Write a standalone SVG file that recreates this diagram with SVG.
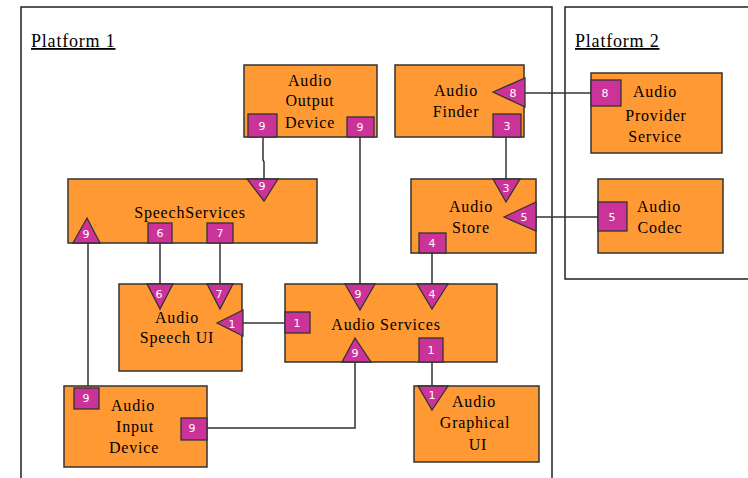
<svg xmlns="http://www.w3.org/2000/svg" width="748" height="478" viewBox="0 0 748 478">
<style>
.plat{fill:none;stroke:#222;stroke-width:1.5}
.pl{font-family:"Liberation Serif",serif;font-size:18px;letter-spacing:0.8px;fill:#000;text-decoration:underline}
.box{fill:#FF9933;stroke:#333;stroke-width:1.5}
.port{fill:#CC3399;stroke:#333;stroke-width:1.3}
.t{font-family:"Liberation Serif",serif;font-size:16px;letter-spacing:0.8px;fill:#000;text-anchor:middle}
.n{font-family:"DejaVu Sans",sans-serif;font-size:11px;fill:#fff;text-anchor:middle}
.c{fill:none;stroke:#333;stroke-width:1.5}
</style>
<rect width="748" height="478" fill="#fff"/>
<g id="platform1">
<path class="plat" d="M21,480 V7 H552 V480"/>
<text class="pl" x="31" y="47">Platform 1</text>
</g>
<g id="platform2">
<path class="plat" d="M750,279 H565 V7 H750"/>
<text class="pl" x="575" y="47">Platform 2</text>
</g>
<g id="connectors">
<polyline class="c" points="263,137 263,160 264,162 264,180"/>
<line class="c" x1="360" y1="137" x2="360" y2="285"/>
<line class="c" x1="506" y1="137" x2="506" y2="180"/>
<line class="c" x1="525" y1="93" x2="591" y2="93"/>
<line class="c" x1="536" y1="217" x2="598" y2="217"/>
<line class="c" x1="432" y1="253" x2="432" y2="285"/>
<line class="c" x1="160" y1="243" x2="160" y2="285"/>
<line class="c" x1="220" y1="243" x2="220" y2="285"/>
<line class="c" x1="88" y1="243" x2="88" y2="388"/>
<line class="c" x1="243" y1="323" x2="285" y2="323"/>
<line class="c" x1="432" y1="362" x2="432" y2="387"/>
<polyline class="c" points="207,428 355,428 355,362"/>
</g>
<g id="audio-output-device">
<rect class="box" x="244" y="65" width="133" height="72"/>
<text class="t" x="310" y="86">Audio</text>
<text class="t" x="310" y="106">Output</text>
<text class="t" x="310" y="128">Device</text>
<rect class="port" x="248" y="114" width="29" height="23"/><text class="n" x="262" y="130">9</text>
<rect class="port" x="347" y="117" width="27" height="20"/><text class="n" x="360" y="131">9</text>
</g>
<g id="audio-finder">
<rect class="box" x="395" y="65" width="129" height="72"/>
<text class="t" x="456" y="96">Audio</text>
<text class="t" x="456" y="117">Finder</text>
<polygon class="port" points="493,92 525,78 525,107"/><text class="n" x="513" y="97">8</text>
<rect class="port" x="493" y="114" width="28" height="23"/><text class="n" x="507" y="130">3</text>
</g>
<g id="audio-provider-service">
<rect class="box" x="591" y="73" width="131" height="80"/>
<text class="t" x="655" y="97">Audio</text>
<text class="t" x="656" y="121">Provider</text>
<text class="t" x="655" y="142">Service</text>
<rect class="port" x="591" y="80" width="30" height="26"/><text class="n" x="605" y="97">8</text>
</g>
<g id="audio-store">
<rect class="box" x="411" y="179" width="125" height="74"/>
<text class="t" x="471" y="212">Audio</text>
<text class="t" x="471" y="233">Store</text>
<polygon class="port" points="493,179 520,179 506,202"/><text class="n" x="506" y="192">3</text>
<polygon class="port" points="504,217 536,202 536,231"/><text class="n" x="524" y="221">5</text>
<rect class="port" x="419" y="233" width="27" height="20"/><text class="n" x="432" y="247">4</text>
</g>
<g id="audio-codec">
<rect class="box" x="598" y="179" width="125" height="74"/>
<text class="t" x="659" y="212">Audio</text>
<text class="t" x="660" y="233">Codec</text>
<rect class="port" x="598" y="202" width="29" height="29"/><text class="n" x="612" y="221">5</text>
</g>
<g id="speech-services">
<rect class="box" x="68" y="179" width="249" height="64"/>
<text class="t" x="190" y="218">SpeechServices</text>
<polygon class="port" points="247,179 278,179 264,201"/><text class="n" x="262" y="190">9</text>
<polygon class="port" points="73,243 100,243 87,218"/><text class="n" x="86" y="238">9</text>
<rect class="port" x="148" y="223" width="24" height="20"/><text class="n" x="160" y="237">6</text>
<rect class="port" x="207" y="223" width="26" height="20"/><text class="n" x="220" y="237">7</text>
</g>
<g id="audio-speech-ui">
<rect class="box" x="119" y="284" width="123" height="87"/>
<text class="t" x="177" y="323">Audio</text>
<text class="t" x="177" y="343">Speech UI</text>
<polygon class="port" points="147,284 173,284 160,309"/><text class="n" x="159" y="298">6</text>
<polygon class="port" points="207,284 233,284 220,309"/><text class="n" x="219" y="298">7</text>
<polygon class="port" points="217,323 243,310 243,336"/><text class="n" x="232" y="328">1</text>
</g>
<g id="audio-services">
<rect class="box" x="285" y="284" width="212" height="78"/>
<text class="t" x="386" y="330">Audio Services</text>
<polygon class="port" points="345,284 375,284 360,310"/><text class="n" x="358" y="298">9</text>
<polygon class="port" points="417,284 448,284 432,309"/><text class="n" x="432" y="298">4</text>
<rect class="port" x="285" y="312" width="25" height="21"/><text class="n" x="297" y="327">1</text>
<polygon class="port" points="342,362 371,362 355,338"/><text class="n" x="355" y="357">9</text>
<rect class="port" x="419" y="338" width="24" height="24"/><text class="n" x="431" y="354">1</text>
</g>
<g id="audio-graphical-ui">
<rect class="box" x="414" y="386" width="125" height="76"/>
<text class="t" x="474" y="407">Audio</text>
<text class="t" x="475" y="428">Graphical</text>
<text class="t" x="478" y="450">UI</text>
<polygon class="port" points="418,386 448,386 432,410"/><text class="n" x="432" y="399">1</text>
</g>
<g id="audio-input-device">
<rect class="box" x="64" y="386" width="143" height="81"/>
<text class="t" x="133" y="411">Audio</text>
<text class="t" x="135" y="432">Input</text>
<text class="t" x="134" y="453">Device</text>
<rect class="port" x="74" y="388" width="25" height="21"/><text class="n" x="86" y="402">9</text>
<rect class="port" x="181" y="418" width="26" height="22"/><text class="n" x="192" y="432">9</text>
</g>
</svg>
